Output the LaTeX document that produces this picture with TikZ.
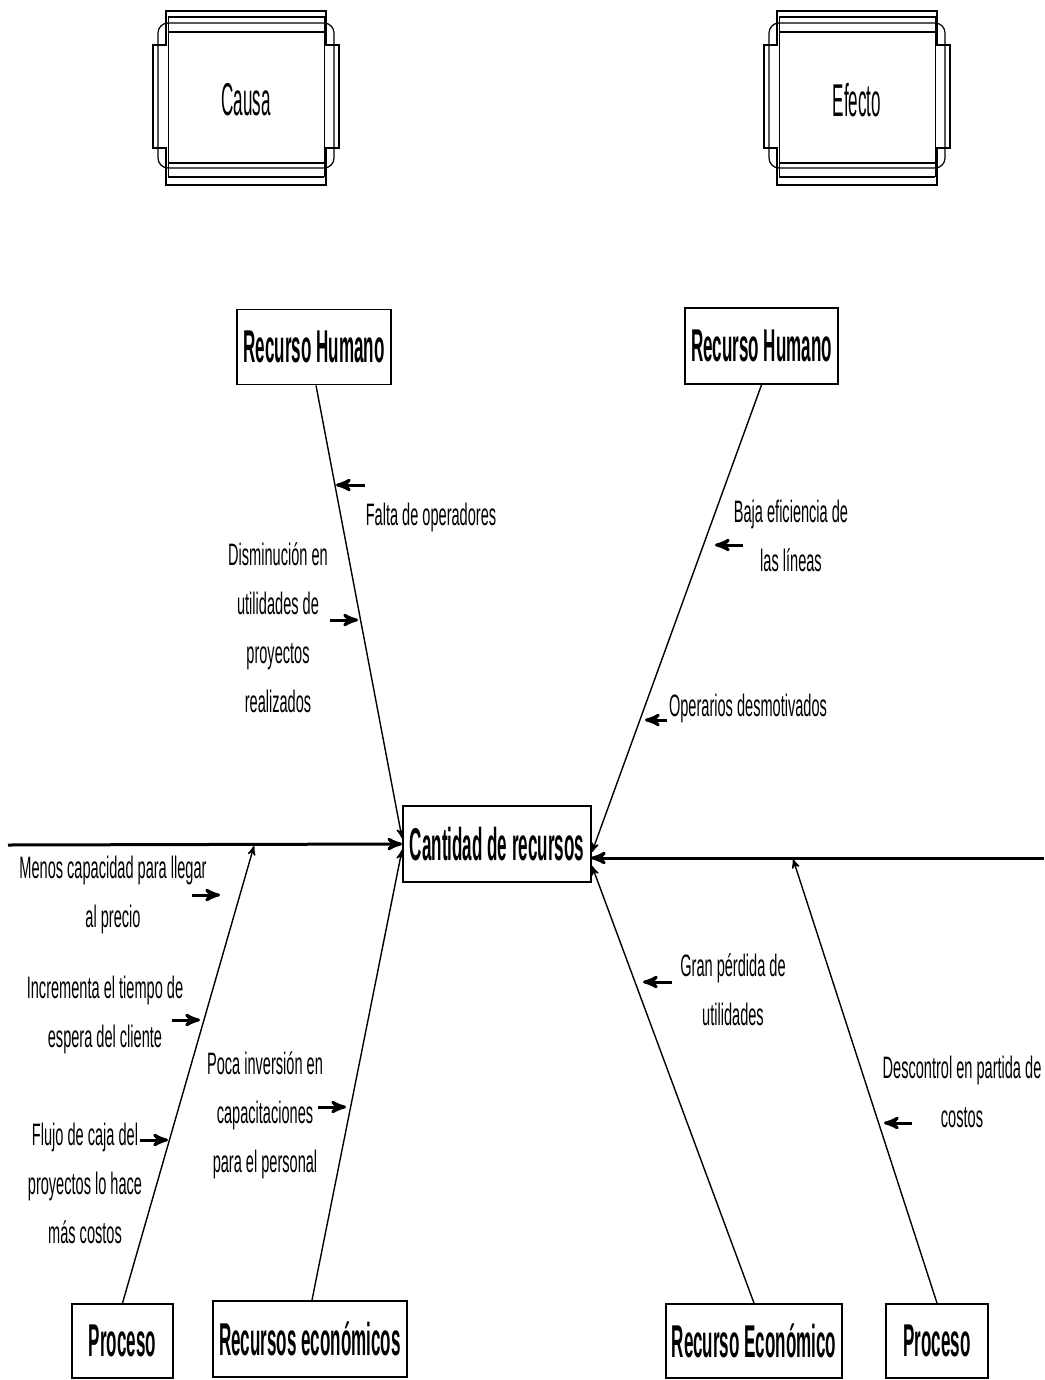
\documentclass[tikz,border=0pt]{standalone}
\usepackage{fontspec}
\setmainfont{Liberation Sans}
\newfontfamily\textofont{Liberation Sans}[FakeStretch=0.47]
\newfontfamily\titulofont{Liberation Sans}[FakeStretch=0.37]
\usetikzlibrary{arrows}

\tikzset{
  marco/.pic={
    \draw[line width=0.6pt] (-80,-87) -- (80,-87) -- (80,-53) -- (93,-53) -- (93,50) -- (80,50) -- (80,87)
      -- (-80,87) -- (-80,50) -- (-93,50) -- (-93,-53) -- (-80,-53) -- cycle;
    \draw[line width=0.5pt] (-78,-81) rectangle (78,79);
    \draw[line width=0.5pt] (-78,-66) rectangle (78,65);
    \draw[line width=1.4pt] (-78,-81) -- (78,-81) (-78,-66) -- (78,-66) (-78,65) -- (78,65) (-78,79) -- (78,79);
    \draw[line width=0.6pt,rounded corners=5pt] (-88,-75) rectangle (88,70);
  }
}

\begin{document}
\begin{tikzpicture}[x=0.5pt,y=-0.5pt,>=stealth',semithick]
\tikzstyle{caja}=[draw,line width=0.9pt,inner sep=0pt,font=\titulofont\bfseries\fontsize{23}{26}\selectfont]
\tikzstyle{rotulo}=[align=center,inner sep=0pt,font=\textofont\fontsize{15.5}{24.5}\selectfont]
\tikzstyle{espina}=[->,line width=0.7pt]
\tikzstyle{flechita}=[->,line width=1.5pt]
\useasboundingbox (0,0) rectangle (1044,1380);

\pic at (246,98) {marco};
\pic at (857,98) {marco};
\node[font=\titulofont\fontsize{23}{26}\selectfont] (causa) at (246,100) {Causa};
\node[font=\titulofont\fontsize{23}{26}\selectfont] (efecto) at (857,100) {Efecto};

\node[caja,minimum width=94pt,minimum height=38pt] (c) at (497,844) {Cantidad de recursos};
\node[caja,minimum width=77pt,minimum height=37.5pt] (rh1) at (314,347) {Recurso Humano};
\node[caja,minimum width=76.5pt,minimum height=38pt] (rh2) at (761.5,346) {Recurso Humano};
\node[caja,minimum width=50.5pt,minimum height=37pt] (p1) at (122.5,1341) {Proceso};
\node[caja,minimum width=97pt,minimum height=38pt] (re1) at (310,1339) {Recursos económicos};
\node[caja,minimum width=88pt,minimum height=37pt] (re2) at (754,1341) {Recurso Económico};
\node[caja,minimum width=51pt,minimum height=37pt] (p2) at (937,1341) {Proceso};

\coordinate (izq) at (8,845);
\coordinate (der) at (1044,858);
\coordinate (ce) at (591,858);
\coordinate (a1) at (402,838);
\coordinate (a2) at (592,852);
\coordinate (a3) at (254,846);
\coordinate (a4) at (402,850);
\coordinate (a5) at (592,866);
\coordinate (a6) at (793,859);

\draw[->,line width=1.5pt] (izq) -- (c.west);
\draw[->,line width=1.5pt] (der) -- (ce);
\draw[espina] (rh1.south) ++(2,0) -- (a1);
\draw[espina] (rh2.south) -- (a2);
\draw[espina] (p1.north) -- (a3);
\draw[espina] (re1.north) ++(2,0) -- (a4);
\draw[espina] (re2.north) -- (a5);
\draw[espina] (p2.north) -- (a6);

\node[rotulo] (l1) at (431,517) {Falta de operadores};
\node[rotulo] (l2) at (278,628) {Disminución en\\utilidades de\\proyectos\\realizados};
\node[rotulo] (l3) at (791,536) {Baja eficiencia de\\las líneas};
\node[rotulo] (l4) at (748,708) {Operarios desmotivados};
\node[rotulo] (l5) at (113,895) {Menos capacidad para llegar\\al precio};
\node[rotulo] (l6) at (105,1015) {Incrementa el tiempo de\\espera del cliente};
\node[rotulo] (l7) at (85,1183) {Flujo de caja del\\proyectos lo hace\\más costos};
\node[rotulo] (l8) at (265,1115) {Poca inversión en\\capacitaciones\\para el personal};
\node[rotulo] (l9) at (733,990) {Gran pérdida de\\utilidades};
\node[rotulo] (l10) at (962,1092) {Descontrol en partida de\\costos};

\coordinate (f1) at (365,485);
\coordinate (f2) at (330,620);
\coordinate (f3) at (743,545);
\coordinate (f4) at (667,720);
\coordinate (f5) at (192,895);
\coordinate (f6) at (172,1020);
\coordinate (f7) at (140,1140);
\coordinate (f8) at (318,1107);
\coordinate (f9) at (672,982);
\coordinate (f10) at (912,1123);
\draw[flechita] (f1) -- ++(-29,0);
\draw[flechita] (f2) -- ++(28,0);
\draw[flechita] (f3) -- ++(-28,0);
\draw[flechita] (f4) -- ++(-22,0);
\draw[flechita] (f5) -- ++(28,0);
\draw[flechita] (f6) -- ++(28,0);
\draw[flechita] (f7) -- ++(28,0);
\draw[flechita] (f8) -- ++(28,0);
\draw[flechita] (f9) -- ++(-29,0);
\draw[flechita] (f10) -- ++(-28,0);
\end{tikzpicture}
\end{document}
